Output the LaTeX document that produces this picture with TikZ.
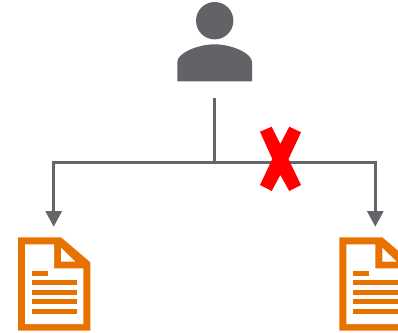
\documentclass[tikz,border=0pt]{standalone}
\usetikzlibrary{arrows.meta}
\definecolor{usergray}{HTML}{626366}
\definecolor{linegray}{HTML}{636569}
\definecolor{docorange}{HTML}{E87200}
\tikzset{
  wire/.style={draw=linegray,line width=2.5pt,line join=miter},
  arrowwire/.style={wire,-{Triangle[length=15.5pt,width=16pt]}},
  docfill/.style={fill=docorange,draw=none},
  docpaper/.style={fill=white,draw=none},
  cross/.style={fill=red,draw=none}
}
\newcommand{\docicon}[1]{%
  \begin{scope}[xshift=#1]
    \fill[docfill] (18,237.3) -- (61,237.3) -- (90.3,262.3) -- (90.3,330.7) -- (18,330.7) -- cycle;
    \fill[docpaper] (25,244.3) -- (54,244.3) -- (54,268.3) -- (83.3,268.3) -- (83.3,324) -- (25,324) -- cycle;
    \fill[docpaper] (61,247.7) -- (75.3,261.7) -- (61,261.7) -- cycle;
    \fill[docfill] (32,271) rectangle (48,276);
    \fill[docfill] (32,280) rectangle (77,285);
    \fill[docfill] (32,290) rectangle (77,295);
    \fill[docfill] (32,299) rectangle (77,304);
    \fill[docfill] (32,309) rectangle (77,314);
  \end{scope}}
\begin{document}
\begin{tikzpicture}[x=1pt,y=-1pt]
  \useasboundingbox (0,0) rectangle (398,332);
  \clip (0,0) rectangle (398,332);
  % person
  \fill[usergray] (214.7,20.7) circle[radius=18.7];
  \fill[usergray] (177.3,81.3) -- (177.3,62)
     .. controls (177.3,53) and (198,44.3) .. (214.7,44.3)
     .. controls (231,44.3) and (252,53) .. (252,62)
     -- (252,81.3) -- cycle;
  % documents
  \docicon{0pt}
  \docicon{321.3pt}
  % connectors
  \coordinate (usertail) at (214.3,98);
  \coordinate (junction) at (214.3,162.7);
  \coordinate (leftdoc) at (53.7,226.7);
  \coordinate (rightdoc) at (375.3,226.7);
  \draw[wire] (usertail) -- (junction);
  \draw[arrowwire] (junction) -| (leftdoc);
  \draw[arrowwire] (junction) -| (rightdoc);
  % red cross
  \fill[cross] (260,131.7) -- (271.7,126.7) -- (280.3,144) -- (289.3,126.7) -- (301,132.3)
     -- (288.5,159) -- (301,185) -- (289.3,191) -- (280.3,175) -- (271.7,191) -- (260,185)
     -- (272.3,159) -- cycle;
\end{tikzpicture}
\end{document}
